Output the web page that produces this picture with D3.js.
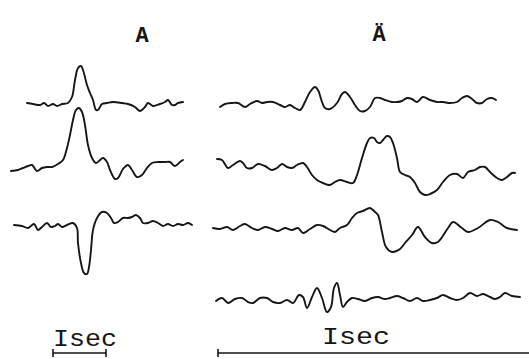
<!DOCTYPE html>
<html><head><meta charset="utf-8">
<script src="https://cdn.jsdelivr.net/npm/d3@7"></script>
<style>html,body{margin:0;padding:0;background:#fff;overflow:hidden}</style>
</head><body>
<svg id="c" width="529" height="359"></svg>
<script>
// ---- data (time in digitizer units, amplitude positive up) ----
const panelTitles = ["A", "Ä"];
const scaleLabel = "Isec";
const secUnits = [53, 312]; // length of 1 sec in time units, left / right panel

const leftT1 = [27,33,40,44,48,53,57,62,68,72,75,78,81,83,87,90,93,96,98,102,107,113,122,128,135,140,145,148,153,160,165,168,172,175,178,183];
const leftV1 = [1,0,-1,1,-2,0,-2,0,1,7,24,36,38,34,19,11,4,-6,-6,0,1,2,1,0,-3,-7,-3,1,-2,0,2,4,-1,-1,1,2];
const leftT2 = [11,18,23,28,32,37,42,47,52,58,63,67,70,73,76,79,82,85,88,92,96,99,103,107,110,115,118,123,128,132,137,142,147,152,158,165,170,175,180,183];
const leftV2 = [-3,-2,0,2,3,-3,0,1,1,4,8,20,33,48,58,60,56,43,23,10,5,7,10,6,-2,-11,-10,-1,3,-2,-9,-7,0,5,6,6,6,2,6,8];
const leftT3 = [14,22,28,34,38,42,47,51,55,58,62,67,73,77,78,81,84,87,89,91,93,97,102,107,111,114,118,123,128,132,136,140,143,148,153,158,163,168,173,178,183,188,192];
const leftV3 = [0,-1,-3,1,-5,-2,2,-2,-1,1,-2,0,2,-3,-18,-38,-48,-49,-42,-25,-5,7,13,12,7,2,3,7,7,8,10,7,2,2,4,2,-1,1,-1,1,0,2,0];

const rightT1 = [220,225,232,238,245,250,257,262,267,273,280,285,290,295,300,305,310,315,318,322,325,330,337,342,345,350,355,360,365,370,375,380,385,392,397,402,407,412,417,423,430,437,443,450,457,462,467,472,477,482,487,492,496];
const rightV1 = [-4,-1,0,0,-4,-1,2,0,1,1,-2,-4,-2,-5,-7,1,11,16,13,1,-5,-6,0,9,11,6,-2,-8,-8,-4,5,5,3,1,1,2,5,4,1,6,3,1,1,0,1,5,7,4,0,0,4,5,3];
const rightT2 = [217,222,228,233,240,243,247,252,258,265,272,277,282,287,292,297,303,307,312,317,323,330,335,340,347,353,357,362,367,370,374,377,380,383,387,390,393,397,400,405,410,415,420,425,430,437,443,450,457,463,468,475,480,485,490,497,502,507,512,515];
const rightV2 = [6,5,-3,0,4,2,-3,-3,1,-1,-5,-3,1,-2,-3,0,2,-2,-10,-15,-18,-20,-17,-15,-17,-18,-10,7,22,27,27,23,22,25,29,28,22,7,-7,-10,-12,-18,-27,-30,-29,-25,-17,-10,-9,-13,-7,-5,-2,-2,-7,-13,-15,-12,-8,-8];
const rightT3 = [213,220,227,233,240,245,252,258,265,272,278,285,292,298,303,310,317,323,330,335,340,347,352,357,363,370,375,378,382,386,392,400,405,412,418,425,432,438,448,453,462,468,478,490,498,507,517];
const rightV3 = [0,-1,1,-2,2,4,0,-2,1,-1,-3,0,-2,0,-5,-1,3,2,-2,-4,0,3,10,15,17,20,16,13,-4,-19,-24,-21,-15,-7,1,-9,-15,-14,0,6,0,-4,0,8,6,0,-2];
const rightT4 = [216,222,228,235,242,248,253,260,267,273,280,287,293,299,303,307,312,317,322,327,331,334,337,340,343,347,352,358,365,372,378,385,390,397,403,410,417,423,430,437,443,450,457,463,470,477,483,490,495,500,505,512,520];
const rightV4 = [-2,1,-4,0,1,-3,-4,1,1,-3,-4,-1,-4,4,2,-9,2,11,1,-13,-8,11,16,4,-8,-3,1,0,-2,1,2,0,1,3,1,-2,1,-2,-1,1,4,1,-1,1,6,3,5,2,0,2,6,3,2];

// ---- layout ----
const leftBases = [104, 168, 225];
const rightBases = [103, 165, 228, 299];
const barStart = [53, 218];
const barY = 353;

const svg = d3.select("#c");
const ink = "#161616";

// time scale (shared digitizer units -> px)
const x = d3.scaleLinear().domain([0, 529]).range([0, 529]);

function drawTrace(T, V, base) {
  const y = d3.scaleLinear().domain([-60, 60]).range([base + 60, base - 60]);
  const pts = T.map((t, i) => [t, V[i]]);
  const line = d3.line().x(d => x(d[0])).y(d => y(d[1])).curve(d3.curveCatmullRom.alpha(0.5));
  svg.append("path").attr("d", line(pts)).attr("fill", "none")
    .attr("stroke", ink).attr("stroke-width", 1.9)
    .attr("stroke-linejoin", "round").attr("stroke-linecap", "round");
}

[[leftT1, leftV1], [leftT2, leftV2], [leftT3, leftV3]].forEach((s, i) => drawTrace(s[0], s[1], leftBases[i]));
[[rightT1, rightV1], [rightT2, rightV2], [rightT3, rightV3], [rightT4, rightV4]].forEach((s, i) => drawTrace(s[0], s[1], rightBases[i]));

// titles
const font = "'Liberation Mono', 'DejaVu Sans Mono', monospace";
svg.append("text").text(panelTitles[0]).attr("x", 142).attr("y", 42)
  .attr("text-anchor", "middle").attr("font-family", font).attr("font-size", 22)
  .attr("font-weight", "bold").attr("fill", ink);
svg.append("text").text(panelTitles[1]).attr("x", 379).attr("y", 41)
  .attr("text-anchor", "middle").attr("font-family", font).attr("font-size", 22)
  .attr("font-weight", "bold").attr("fill", ink);

// scale bars
secUnits.forEach((len, i) => {
  const x0 = x(barStart[i]), x1 = x(barStart[i] + len);
  const g = svg.append("g").attr("stroke", ink).attr("stroke-width", 1.6);
  g.append("line").attr("x1", x0).attr("x2", x1).attr("y1", barY).attr("y2", barY);
  g.append("line").attr("x1", x0).attr("x2", x0).attr("y1", barY - 4).attr("y2", barY + 4);
  g.append("line").attr("x1", x1).attr("x2", x1).attr("y1", barY - 4).attr("y2", barY + 4);
});
const labelX = [85, 356], labelY = [346, 344], labelW = [64, 68];
labelX.forEach((lx, i) => {
  svg.append("text").text(scaleLabel).attr("x", lx - labelW[i] / 2).attr("y", labelY[i])
    .attr("font-family", font).attr("font-size", 23)
    .attr("textLength", labelW[i]).attr("lengthAdjust", "spacingAndGlyphs")
    .attr("fill", ink);
});
</script>
</body></html>
